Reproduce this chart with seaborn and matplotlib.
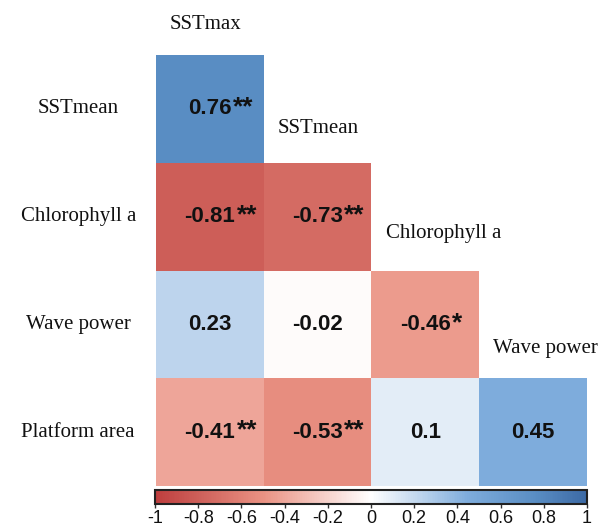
import numpy as np
import pandas as pd
import seaborn as sns
import matplotlib.pyplot as plt
from matplotlib.colors import LinearSegmentedColormap

# Variables (rows of the lower triangle / columns of the lower triangle)
row_vars = ["SSTmean", "Chlorophyll a", "Wave power", "Platform area"]
col_vars = ["SSTmax", "SSTmean", "Chlorophyll a", "Wave power"]

# Pearson correlations, lower triangle, one list per row
r_sstmean = [0.76]
r_chlorophyll = [-0.81, -0.73]
r_wave = [0.23, -0.02, -0.46]
r_platform = [-0.41, -0.53, 0.10, 0.45]

# Significance marks for the same cells
sig_sstmean = ["**"]
sig_chlorophyll = ["**", "**"]
sig_wave = ["", "", "*"]
sig_platform = ["**", "**", "", ""]

cbar_ticks = [-1, -0.8, -0.6, -0.4, -0.2, 0, 0.2, 0.4, 0.6, 0.8, 1]
cbar_ticklabels = ["-1", "-0.8", "-0.6", "-0.4", "-0.2", "0", "0.2", "0.4", "0.6", "0.8", "1"]

rows_r = [r_sstmean, r_chlorophyll, r_wave, r_platform]
rows_sig = [sig_sstmean, sig_chlorophyll, sig_wave, sig_platform]

n = len(row_vars)
mat = np.full((n, len(col_vars)), np.nan)
sig = np.full((n, len(col_vars)), "", dtype=object)
for i, (vals, marks) in enumerate(zip(rows_r, rows_sig)):
    mat[i, :len(vals)] = vals
    sig[i, :len(marks)] = marks
df = pd.DataFrame(mat, index=row_vars, columns=col_vars)
mask = df.isna()
labels = df.map(lambda v: "" if np.isnan(v) else f"{v:g}")

# Diverging red-white-blue palette
cmap = LinearSegmentedColormap.from_list(
    "corr_rdbu",
    [
        (0.00, (190 / 255, 62 / 255, 62 / 255)),
        (0.10, (206 / 255, 96 / 255, 90 / 255)),
        (0.25, (234 / 255, 146 / 255, 131 / 255)),
        (0.50, (1.0, 1.0, 1.0)),
        (0.725, (126 / 255, 172 / 255, 220 / 255)),
        (0.88, (90 / 255, 142 / 255, 196 / 255)),
        (1.00, (60 / 255, 106 / 255, 165 / 255)),
    ],
)

sns.set_style("white")
plt.rcParams["axes.unicode_minus"] = False

fig = plt.figure(figsize=(5.98, 5.29), dpi=100)
ax = fig.add_axes([156 / 598, 1 - 486 / 529, 431 / 598, 431 / 529])
cax = fig.add_axes([155 / 598, 1 - 504 / 529, 432 / 598, 14 / 529])

num_font = dict(family="Liberation Sans", fontsize=16, fontweight="bold", color="#111111")
star_font = dict(family="Liberation Sans", fontsize=19, fontweight="bold", color="#111111")
serif_font = dict(family="Liberation Serif", fontsize=15, color="#111111")

sns.heatmap(
    df,
    mask=mask,
    cmap=cmap,
    vmin=-1,
    vmax=1,
    annot=labels.values,
    fmt="",
    annot_kws=num_font,
    xticklabels=False,
    yticklabels=row_vars,
    cbar_ax=cax,
    cbar_kws=dict(orientation="horizontal", ticks=cbar_ticks),
    ax=ax,
)

# Significance stars hang off the right side of each number
for t in list(ax.texts):
    x, y = t.get_position()
    i, j = int(y), int(x)
    s = sig[i, j]
    if s:
        ax.annotate(s, xy=(1, 0.5), xycoords=t, xytext=(1, 1.0),
                    textcoords="offset points", ha="left", va="center", **star_font)

# Row labels, centred in the left margin
ax.set_yticklabels(row_vars, rotation=0, ha="center", **serif_font)
ax.tick_params(axis="y", length=0, pad=56)
ax.tick_params(axis="x", length=0)
ax.set_xlabel("")
ax.set_ylabel("")
for sp in ax.spines.values():
    sp.set_visible(False)

# Column labels sit just above the first cell of each column
label_rise = [0.28, 0.32, 0.34, 0.28]
for j, name in enumerate(col_vars):
    ax.text(j + 0.13, j - label_rise[j], name, ha="left", va="center",
            clip_on=False, **serif_font)

# Colorbar styling
cbar = ax.collections[0].colorbar
cbar.outline.set_linewidth(1.5)
cbar.outline.set_edgecolor("#222222")
cbar.ax.tick_params(direction="out", length=3, width=1, color="#333333", pad=1)
cbar.ax.set_xticks(cbar_ticks)
cbar.ax.set_xticklabels(cbar_ticklabels, family="Liberation Sans", fontsize=13, color="#111111")

fig.savefig("out.png", dpi=100)
